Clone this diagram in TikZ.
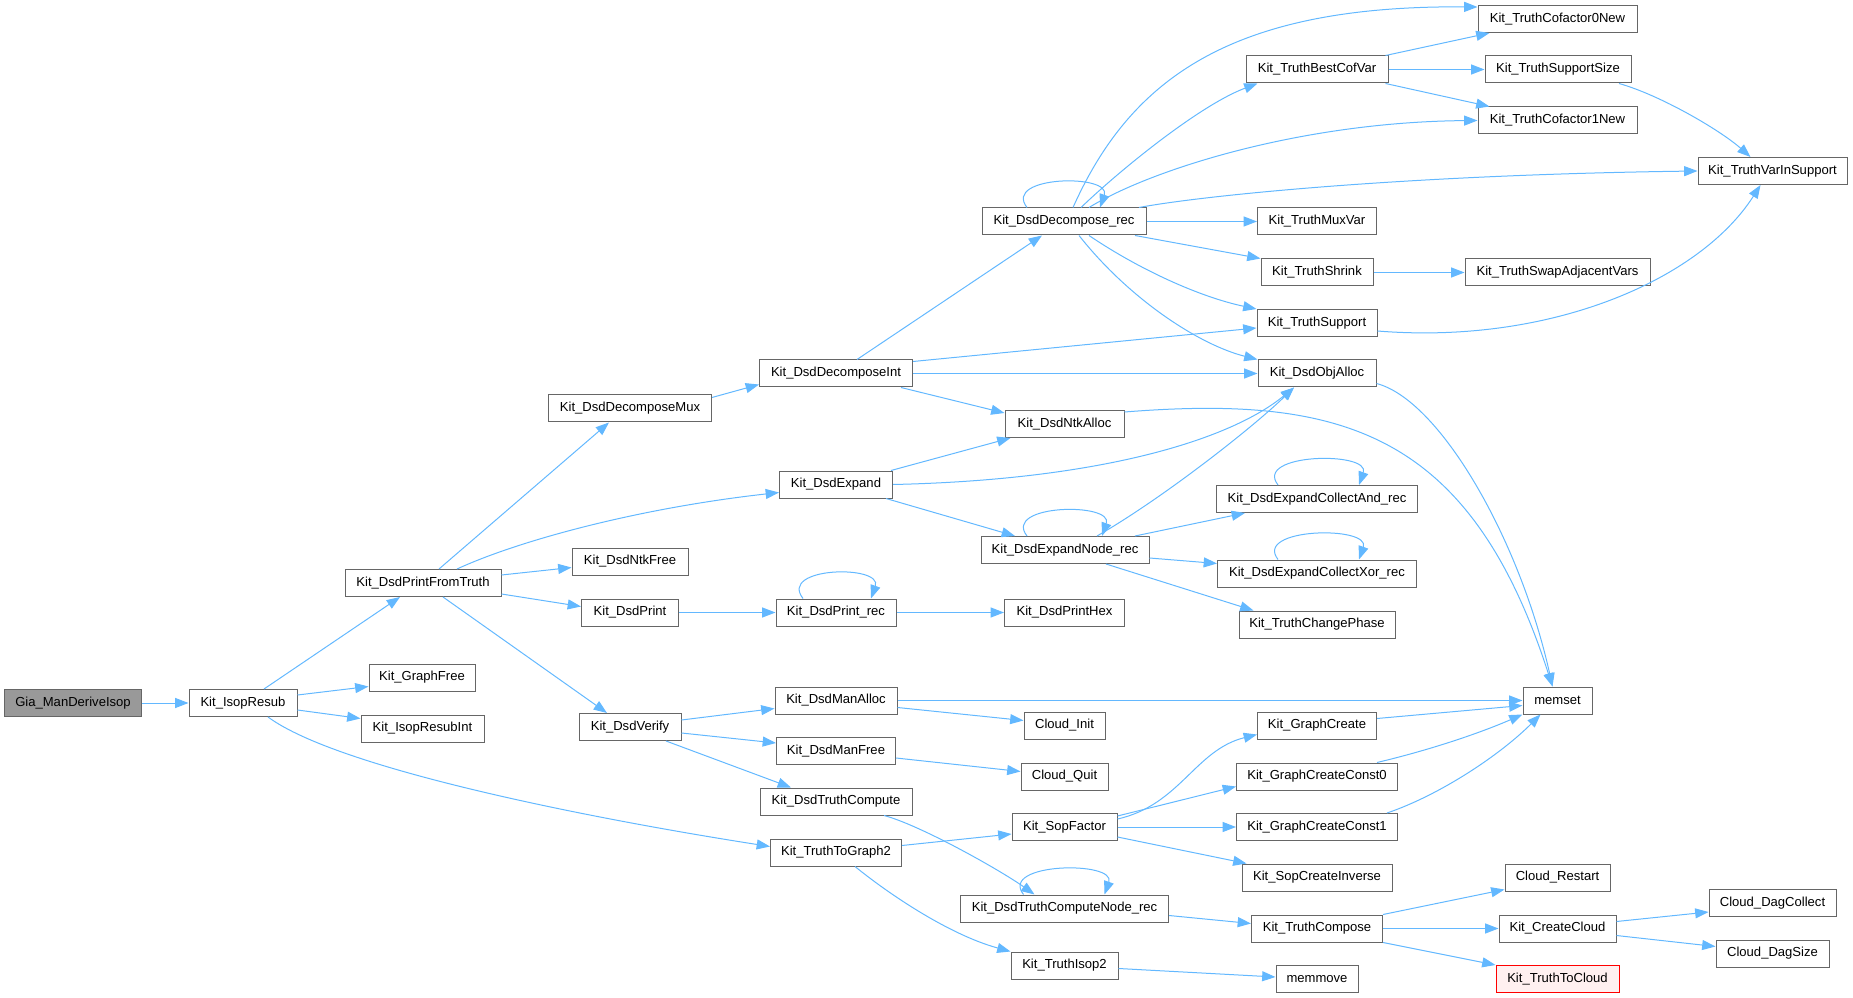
\documentclass[tikz,border=0pt]{standalone}
\usepackage{fontspec}
\setmainfont{Liberation Sans}
\usetikzlibrary{arrows.meta,calc}
\definecolor{edgec}{HTML}{63B8FF}
\definecolor{nodeb}{HTML}{666666}
\definecolor{rootf}{HTML}{999999}
\definecolor{redf}{HTML}{FFF0F0}
\begin{document}
\begin{tikzpicture}[x=0.75pt,y=-0.75pt,
 fn/.style={draw=nodeb, fill=white, line width=0.75pt, minimum height=20.25pt, inner sep=0pt,
   font=\fontsize{9.8}{11}\selectfont, text=black, minimum width=#1*0.75pt},
 root/.style={fill=rootf},
 hl/.style={draw=red, fill=redf},
 edge/.style={draw=edgec, line width=0.75pt, -{Triangle[length=10pt,width=7.5pt]}}]
\useasboundingbox (0,0) rectangle (1853,998);
% nodes
\node[fn=137, root] (gia) at (73,703) {Gia\_ManDeriveIsop};
\node[fn=108] (iso) at (243,703) {Kit\_IsopResub};
\node[fn=156] (pft) at (423,583) {Kit\_DsdPrintFromTruth};
\node[fn=106] (gfree) at (422,677.5) {Kit\_GraphFree};
\node[fn=123] (iri) at (422.5,728.5) {Kit\_IsopResubInt};
\node[fn=163] (mux) at (630,408.5) {Kit\_DsdDecomposeMux};
\node[fn=116] (nfree) at (630,561.5) {Kit\_DsdNtkFree};
\node[fn=97] (dprint) at (630,612.5) {Kit\_DsdPrint};
\node[fn=102] (verify) at (630,727) {Kit\_DsdVerify};
\node[fn=153] (dint) at (836,373.5) {Kit\_DsdDecomposeInt};
\node[fn=113] (dexp) at (836,484.5) {Kit\_DsdExpand};
\node[fn=120] (prec) at (836,612.5) {Kit\_DsdPrint\_rec};
\node[fn=122] (malloc) at (836,700.5) {Kit\_DsdManAlloc};
\node[fn=119] (mfree) at (836,751) {Kit\_DsdManFree};
\node[fn=152] (tcomp) at (836,801.5) {Kit\_DsdTruthCompute};
\node[fn=131] (ttg2) at (836,852.5) {Kit\_TruthToGraph2};
\node[fn=164] (rec) at (1064,221.5) {Kit\_DsdDecompose\_rec};
\node[fn=119] (nalloc) at (1064.5,424) {Kit\_DsdNtkAlloc};
\node[fn=168] (enr) at (1065,550) {Kit\_DsdExpandNode\_rec};
\node[fn=120] (phex) at (1064.5,612.5) {Kit\_DsdPrintHex};
\node[fn=81] (cinit) at (1064.5,725.5) {Cloud\_Init};
\node[fn=87] (cquit) at (1064.5,776.5) {Cloud\_Quit};
\node[fn=105] (sopf) at (1064.5,827) {Kit\_SopFactor};
\node[fn=208] (cnr) at (1064.5,908.5) {Kit\_DsdTruthComputeNode\_rec};
\node[fn=107] (isop2) at (1064.5,965.5) {Kit\_TruthIsop2};
\node[fn=142] (bcv) at (1317,69.5) {Kit\_TruthBestCofVar};
\node[fn=119] (muxvar) at (1317,221.5) {Kit\_TruthMuxVar};
\node[fn=112] (shrink) at (1317,272.5) {Kit\_TruthShrink};
\node[fn=120] (tsup) at (1317,323) {Kit\_TruthSupport};
\node[fn=118] (oalloc) at (1317,373.5) {Kit\_DsdObjAlloc};
\node[fn=201] (cand) at (1317,499) {Kit\_DsdExpandCollectAnd\_rec};
\node[fn=199] (cxor) at (1317,573.5) {Kit\_DsdExpandCollectXor\_rec};
\node[fn=156] (cphase) at (1317,624.5) {Kit\_TruthChangePhase};
\node[fn=119] (gcreate) at (1317,725.5) {Kit\_GraphCreate};
\node[fn=161] (gc0) at (1317,776.5) {Kit\_GraphCreateConst0};
\node[fn=161] (gc1) at (1317,827) {Kit\_GraphCreateConst1};
\node[fn=150] (sci) at (1317,877.5) {Kit\_SopCreateInverse};
\node[fn=131] (tcompose) at (1317,928.5) {Kit\_TruthCompose};
\node[fn=82] (memmove) at (1317,979) {memmove};
\node[fn=159] (c0) at (1557.5,19) {Kit\_TruthCofactor0New};
\node[fn=146] (ssize) at (1558,69.5) {Kit\_TruthSupportSize};
\node[fn=159] (c1) at (1557.5,120.5) {Kit\_TruthCofactor1New};
\node[fn=185] (swap) at (1557.5,272.5) {Kit\_TruthSwapAdjacentVars};
\node[fn=69] (memset) at (1557.5,700.5) {memset};
\node[fn=105] (crest) at (1557.5,877.5) {Cloud\_Restart};
\node[fn=117] (ccloud) at (1557.5,928.5) {Kit\_CreateCloud};
\node[fn=123, hl] (t2c) at (1557.5,979) {Kit\_TruthToCloud};
\node[fn=149] (vis) at (1772.5,171) {Kit\_TruthVarInSupport};
\node[fn=127] (dagc) at (1772.5,903) {Cloud\_DagCollect};
\node[fn=113] (dags) at (1772.5,953.5) {Cloud\_DagSize};
% edges
\draw[edge] (gia.east) -- (iso.west);
\draw[edge] ($(iso.north)+(21,0)$) -- ($(pft.south)+(-23,0)$);
\draw[edge] ($(iso.east)+(0,-8)$) -- ($(gfree.west)+(0,9)$);
\draw[edge] ($(iso.east)+(0,7)$) -- ($(iri.west)+(0,-10)$);
\draw[edge] ($(iso.south)+(25,0)$) .. controls (340,770) and (600,820) .. ($(ttg2.west)+(0,-6)$);
\draw[edge] ($(pft.north)+(16,0)$) -- ($(mux.south)+(-21,0)$);
\draw[edge] ($(pft.north)+(34,0)$) .. controls (520,540) and (640,508) .. ($(dexp.west)+(0,8)$);
\draw[edge] ($(pft.east)+(0,-8)$) -- ($(nfree.west)+(0,6)$);
\draw[edge] ($(pft.east)+(0,11)$) -- ($(dprint.west)+(0,-6)$);
\draw[edge] ($(pft.south)+(20,0)$) -- ($(verify.north)+(-23,0)$);
\draw[edge] ($(mux.east)+(0,-11)$) -- ($(dint.west)+(0,11)$);
\draw[edge] ($(dint.north)+(21,0)$) -- ($(rec.south)+(-22,0)$);
\draw[edge] ($(dint.east)+(0,-12)$) -- ($(tsup.west)+(0,5)$);
\draw[edge] (dint.east) -- (oalloc.west);
\draw[edge] ($(dint.south)+(65,0)$) -- ($(nalloc.west)+(0,-11)$);
\draw[edge] ($(rec.north)+(-37,0)$) .. controls +(-25,-32) and +(12,-34) .. ($(rec.north)+(36,0)$);
\draw[edge] ($(rec.north)+(9,0)$) .. controls (1130,80) and (1230,5) .. ($(c0.west)+(0,-12)$);
\draw[edge] ($(rec.north)+(17,0)$) .. controls (1120,170) and (1200,105) .. ($(bcv.south west)+(12,0)$);
\draw[edge] ($(rec.north)+(25,0)$) .. controls (1150,170) and (1300,122) .. (c1.west);
\draw[edge] ($(rec.north)+(75,0)$) .. controls (1200,196) and (1400,175) .. (vis.west);
\draw[edge] (rec.east) -- (muxvar.west);
\draw[edge] ($(rec.south)+(71,0)$) -- (shrink.north west);
\draw[edge] ($(rec.south)+(25,0)$) .. controls (1140,270) and (1200,297) .. (tsup.north west);
\draw[edge] ($(rec.south)+(15,0)$) .. controls (1130,300) and (1200,345) .. (oalloc.north west);
\draw[edge] ($(bcv.north east)+(-3,0)$) -- ($(c0.south west)+(12,0)$);
\draw[edge] (bcv.east) -- (ssize.west);
\draw[edge] ($(bcv.south east)+(-3,0)$) -- ($(c1.north west)+(12,0)$);
\draw[edge] ($(ssize.south)+(61,0)$) .. controls (1660,95) and (1720,130) .. ($(vis.north)+(-22,0)$);
\draw[edge] (shrink.east) -- (swap.west);
\draw[edge] ($(tsup.east)+(0,8)$) .. controls (1550,345) and (1700,280) .. ($(vis.south)+(-12,0)$);
\draw[edge] ($(oalloc.east)+(0,10)$) .. controls (1440,400) and (1520,540) .. ($(memset.north)+(-5,0)$);
\draw[edge] ($(nalloc.east)+(0,-12)$) .. controls (1340,395) and (1470,430) .. ($(memset.north)+(-5,0)$);
\draw[edge] ($(dexp.north east)+(-2,0)$) -- ($(nalloc.south west)+(6,0)$);
\draw[edge] (dexp.east) .. controls (1100,480) and (1230,440) .. ($(oalloc.south)+(-23,0)$);
\draw[edge] ($(dexp.south)+(50,0)$) -- ($(enr.north)+(-50,0)$);
\draw[edge] ($(enr.north)+(-38,0)$) .. controls +(-25,-32) and +(12,-34) .. ($(enr.north)+(37,0)$);
\draw[edge] ($(enr.north)+(32,0)$) .. controls (1160,500) and (1250,430) .. ($(oalloc.south)+(-23,0)$);
\draw[edge] ($(enr.north)+(70,0)$) -- ($(cand.south west)+(29,0)$);
\draw[edge] ($(enr.east)+(0,8)$) -- ($(cxor.west)+(0,-10)$);
\draw[edge] ($(enr.south)+(41,0)$) -- ($(cphase.north west)+(15,0)$);
\draw[edge] ($(cand.north)+(-39,0)$) .. controls +(-25,-32) and +(12,-34) .. ($(cand.north)+(42,0)$);
\draw[edge] ($(cxor.north)+(-39,0)$) .. controls +(-25,-32) and +(12,-34) .. ($(cxor.north)+(42,0)$);
\draw[edge] (dprint.east) -- (prec.west);
\draw[edge] ($(prec.north)+(-33,0)$) .. controls +(-25,-32) and +(12,-34) .. ($(prec.north)+(35,0)$);
\draw[edge] (prec.east) -- (phex.west);
\draw[edge] ($(verify.east)+(0,-7)$) -- ($(malloc.west)+(0,8)$);
\draw[edge] ($(verify.east)+(0,6)$) -- ($(mfree.west)+(0,-8)$);
\draw[edge] ($(verify.south)+(36,0)$) -- ($(tcomp.north)+(-45,0)$);
\draw[edge] (malloc.east) -- (memset.west);
\draw[edge] ($(malloc.east)+(0,7)$) -- ($(cinit.west)+(0,-5)$);
\draw[edge] ($(mfree.east)+(0,7)$) -- ($(cquit.west)+(0,-5)$);
\draw[edge] ($(tcomp.south)+(48,0)$) .. controls (920,825) and (1000,870) .. ($(cnr.north)+(-30,0)$);
\draw[edge] ($(cnr.north)+(-41,0)$) .. controls +(-25,-32) and +(12,-34) .. ($(cnr.north)+(40,0)$);
\draw[edge] ($(cnr.east)+(0,7)$) -- ($(tcompose.west)+(0,-5)$);
\draw[edge] ($(ttg2.east)+(0,-7)$) -- ($(sopf.west)+(0,7)$);
\draw[edge] ($(ttg2.south)+(19,0)$) .. controls (890,895) and (950,935) .. (isop2.north west);
\draw[edge] ($(sopf.east)+(0,-8)$) .. controls (1180,805) and (1195,750) .. ($(gcreate.west)+(0,9)$);
\draw[edge] ($(sopf.east)+(0,-11)$) -- ($(gc0.west)+(0,10)$);
\draw[edge] (sopf.east) -- (gc1.west);
\draw[edge] ($(sopf.east)+(0,10)$) -- ($(sci.north west)+(5,0)$);
\draw[edge] ($(gcreate.east)+(0,-7)$) -- ($(memset.west)+(0,5)$);
\draw[edge] ($(gc0.north)+(60,0)$) .. controls (1430,750) and (1480,733) .. (memset.south west);
\draw[edge] ($(gc1.north)+(70,0)$) .. controls (1440,795) and (1500,755) .. ($(memset.south)+(-17,0)$);
\draw[edge] ($(isop2.east)+(0,3)$) -- ($(memmove.west)+(0,-2)$);
\draw[edge] (tcompose.north east) -- ($(crest.west)+(0,12)$);
\draw[edge] (tcompose.east) -- (ccloud.west);
\draw[edge] (tcompose.south east) -- (t2c.north west);
\draw[edge] ($(ccloud.east)+(0,-7)$) -- ($(dagc.west)+(0,9)$);
\draw[edge] ($(ccloud.east)+(0,7)$) -- ($(dags.west)+(0,-7)$);
\end{tikzpicture}
\end{document}
